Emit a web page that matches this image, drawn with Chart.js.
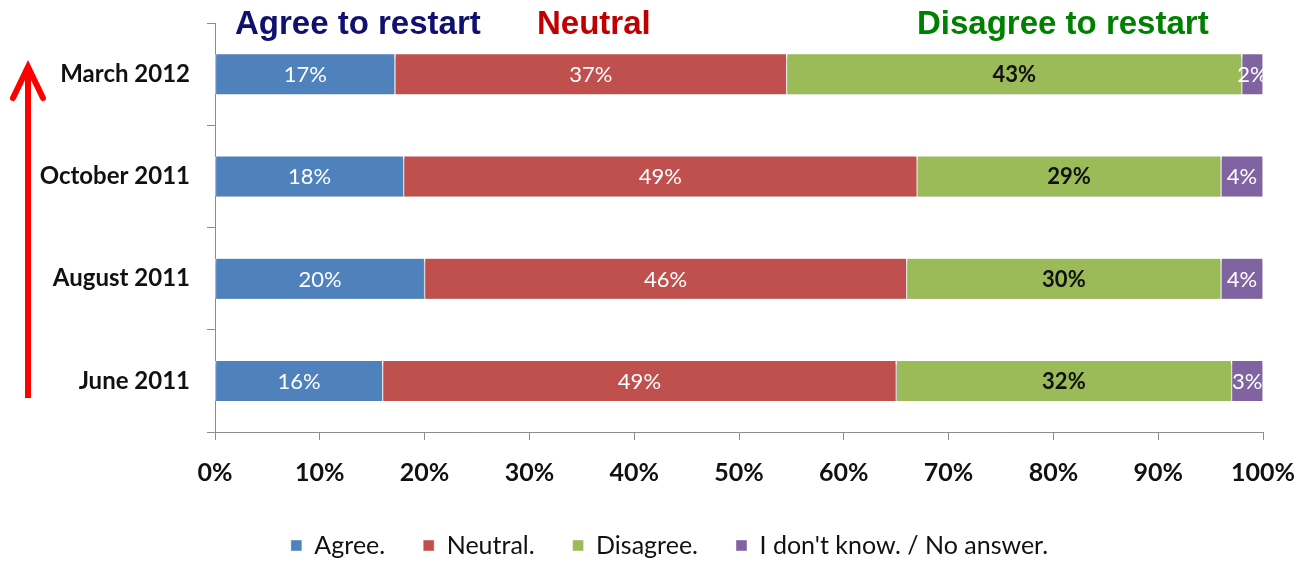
<!DOCTYPE html>
<html>
<head>
<meta charset="utf-8">
<script src="https://cdn.jsdelivr.net/npm/chart.js@4"></script>
<style>
  body { margin: 0; background: #fff; }
  #wrap { position: relative; width: 1303px; height: 562px; }
</style>
</head>
<body>
<div id="wrap"><canvas id="barChart" width="1303" height="562"></canvas></div>
<script>
// survey waves, top to bottom
const periods = ['March 2012', 'October 2011', 'August 2011', 'June 2011'];
const agree = [17, 18, 20, 16];
const neutral = [37, 49, 46, 49];
const disagree = [43, 29, 30, 32];
const dontKnow = [2, 4, 4, 3];
const seriesNames = ['Agree.', 'Neutral.', 'Disagree.', "I don't know. / No answer."];
const xTicks = [0, 10, 20, 30, 40, 50, 60, 70, 80, 90, 100];

// each row is drawn as a share of its own total (100% stacked)
const rows = [agree, neutral, disagree, dontKnow];
const totals = periods.map((p, i) => rows.reduce((s, r) => s + r[i], 0));
const share = arr => arr.map((v, i) => v / totals[i] * 100);

// shadow under bars + value labels
const barExtras = {
  id: 'barExtras',
  beforeDatasetsDraw(chart) {
    const ctx = chart.ctx;
    ctx.save();
    ctx.shadowColor = 'rgba(0,0,0,0.35)';
    ctx.shadowBlur = 3;
    ctx.shadowOffsetY = 3;
  },
  afterDatasetsDraw(chart) {
    const ctx = chart.ctx;
    ctx.restore();
    ctx.save();
    ctx.textAlign = 'center';
    ctx.textBaseline = 'middle';
    chart.data.datasets.forEach((ds, d) => {
      const meta = chart.getDatasetMeta(d);
      meta.data.forEach((bar, i) => {
        const c = bar.getCenterPoint();
        if (d === 2) {
          ctx.font = 'bold 22px Lato';
          ctx.fillStyle = '#111';
        } else {
          ctx.font = '22px Lato';
          ctx.fillStyle = '#fff';
        }
        ctx.fillText(ds.raw[i] + '%', c.x, c.y + 1);
      });
    });
    ctx.restore();
  }
};

// headings over the columns and the red arrow on the left
const annotations = {
  id: 'annotations',
  afterDraw(chart) {
    const ctx = chart.ctx;
    ctx.save();
    ctx.font = 'bold 33px "Liberation Sans"';
    ctx.textBaseline = 'alphabetic';
    ctx.textAlign = 'left';
    ctx.fillStyle = '#101070';
    ctx.fillText('Agree to restart', 235, 34);
    ctx.fillStyle = '#c00000';
    ctx.fillText('Neutral', 537, 34);
    ctx.fillStyle = '#008000';
    ctx.fillText('Disagree to restart', 917, 34);

    ctx.strokeStyle = '#ff0000';
    ctx.lineWidth = 6;
    ctx.beginPath();
    ctx.moveTo(28, 398);
    ctx.lineTo(28, 68);
    ctx.stroke();
    ctx.lineCap = 'round';
    ctx.beginPath();
    ctx.moveTo(13, 98);
    ctx.lineTo(28, 67);
    ctx.lineTo(43, 98);
    ctx.stroke();
    ctx.restore();
  }
};

// legend sits low and a bit right of centre
const legendFit = {
  id: 'legendFit',
  beforeLayout(chart) {
    const lg = chart.legend;
    if (lg && !lg._patched) {
      const fit = lg.fit;
      lg.fit = function () {
        fit.call(this);
        this.height = 67;
      };
      lg._patched = true;
    }
  },
  afterLayout(chart) {
    chart.legend.left += 38;
    chart.legend.right += 38;
  }
};

const mk = (label, arr, color) => ({
  label: label,
  data: share(arr),
  raw: arr,
  backgroundColor: color,
  borderColor: 'rgba(255,255,255,0.85)',
  borderWidth: { left: 1, right: 1, top: 0, bottom: 0 },
  borderSkipped: false,
  barThickness: 40
});

new Chart(document.getElementById('barChart'), {
  type: 'bar',
  data: {
    labels: periods,
    datasets: [
      mk(seriesNames[0], agree, '#4f81bd'),
      mk(seriesNames[1], neutral, '#c0504d'),
      mk(seriesNames[2], disagree, '#9bbb59'),
      mk(seriesNames[3], dontKnow, '#8064a2')
    ]
  },
  options: {
    indexAxis: 'y',
    responsive: false,
    animation: false,
    layout: { padding: { top: 23, right: 40, left: 0, bottom: 0 } },
    scales: {
      x: {
        stacked: true,
        min: 0,
        max: 100,
        afterBuildTicks: scale => { scale.ticks = xTicks.map(v => ({ value: v })); },
        afterFit: scale => {
          scale.height = 63;
          scale.paddingLeft = 0;
          scale.paddingRight = 0;
        },
        grid: { drawOnChartArea: false, color: '#8c8c8c', tickLength: 8 },
        border: { color: '#8c8c8c' },
        ticks: {
          padding: 18,
          color: '#111',
          font: { family: 'Lato', weight: 'bold', size: 25 },
          maxRotation: 0,
          callback: v => v + '%'
        }
      },
      y: {
        stacked: true,
        afterFit: scale => {
          scale.width = 215;
          scale.paddingTop = 0;
          scale.paddingBottom = 0;
        },
        grid: { drawOnChartArea: false, offset: true, color: '#8c8c8c', tickLength: 8 },
        border: { color: '#8c8c8c' },
        ticks: {
          padding: 17,
          color: '#111',
          font: { family: 'Lato', weight: 'bold', size: 24 }
        }
      }
    },
    plugins: {
      legend: {
        position: 'bottom',
        labels: {
          boxWidth: 11,
          boxHeight: 11,
          padding: 38,
          color: '#111',
          font: { family: 'Lato', size: 25 }
        }
      },
      tooltip: { enabled: false }
    }
  },
  plugins: [barExtras, annotations, legendFit]
});
</script>
</body>
</html>
